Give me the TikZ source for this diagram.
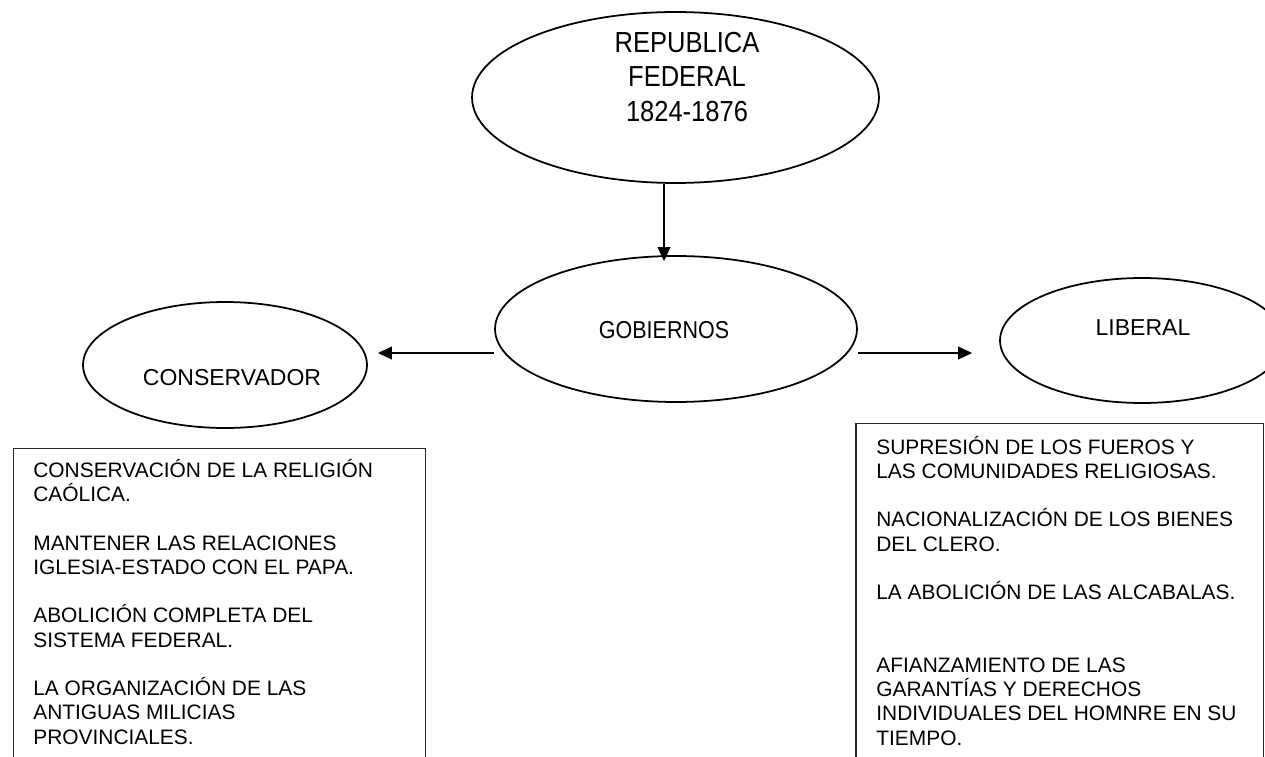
\documentclass[tikz,border=0pt]{standalone}
\usepackage{fontspec}
\setmainfont{Liberation Sans}
\newfontfamily\estrecha{Liberation Sans}[FakeStretch=0.88]
\usetikzlibrary{positioning,arrows.meta,shapes.geometric,calc}

\begin{document}
\begin{tikzpicture}[x=0.02cm,y=-0.02cm,
        elipse/.style={draw,ellipse,line width=1pt,inner sep=0pt},
        flecha/.style={line width=1.2pt,-{Triangle[length=0.28cm,width=0.25cm]}},
        caja/.style={draw=black!85,line width=0.85pt,anchor=north west,minimum height=7cm},
        lista/.style={anchor=base west,align=left,inner sep=0pt,font=\fontsize{11.9}{13.8}\selectfont}]
        \def\gap{\\[13.8pt]}
        \clip (0,0) rectangle (1265,757);
        \fill[white] (0,0) rectangle (1265,757);
        \coordinate (eje) at (664,0);
        \coordinate (nivel) at (0,353);
        \node[elipse,minimum width=8.14cm,minimum height=3.42cm] (rep) at (675.5,97.5) {};
        \node[align=center,font=\estrecha\fontsize{16.5}{19.4}\selectfont] (repTxt) at (687,77) {REPUBLICA\\FEDERAL\\1824-1876};
        \node[elipse,minimum width=7.24cm,minimum height=2.92cm] (gob) at (676,329) {};
        \node[font=\estrecha\fontsize{13.9}{16}\selectfont] (gobTxt) at (664,330) {GOBIERNOS};
        \node[elipse,minimum width=5.68cm,minimum height=2.52cm] (cons) at (225,365) {};
        \node[font=\fontsize{13.1}{16}\selectfont] (consTxt) at (232,378) {CONSERVADOR};
        \node[elipse,minimum width=5.68cm,minimum height=2.5cm] (lib) at (1142,340.5) {};
        \node[font=\fontsize{13.1}{16}\selectfont] (libTxt) at (1143,328) {LIBERAL};
        \draw[flecha,shorten >=-0.12cm] (eje |- rep.south) -- (eje |- gob.north);
        \draw[flecha,shorten >=0.2cm] (gob.west |- nivel) -- (cons.east |- nivel);
        \draw[flecha,shorten >=0.54cm] (gob.east |- nivel) -- (lib.west |- nivel);
        \node[caja,minimum width=8.24cm] (cajaCons) at (13,448) {};
        \node[caja,minimum width=8.16cm] (cajaLib) at (855,423) {};
        \node[lista] (listaCons) at (33,744) {CONSERVACIÓN DE LA RELIGIÓN\\CAÓLICA.\gap
            MANTENER LAS RELACIONES\\IGLESIA-ESTADO CON EL PAPA.\gap
            ABOLICIÓN COMPLETA DEL\\SISTEMA FEDERAL.\gap
            LA ORGANIZACIÓN DE LAS\\ANTIGUAS MILICIAS\\PROVINCIALES.};
        \node[lista] (listaLib) at (876,745) {SUPRESIÓN DE LOS FUEROS Y\\LAS COMUNIDADES RELIGIOSAS.\gap
            NACIONALIZACIÓN DE LOS BIENES\\DEL CLERO.\gap
            LA ABOLICIÓN DE LAS ALCABALAS.\\[27.6pt]
            AFIANZAMIENTO DE LAS\\GARANTÍAS Y DERECHOS\\INDIVIDUALES DEL HOMNRE EN SU\\TIEMPO.};
    \end{tikzpicture}
\end{document}
